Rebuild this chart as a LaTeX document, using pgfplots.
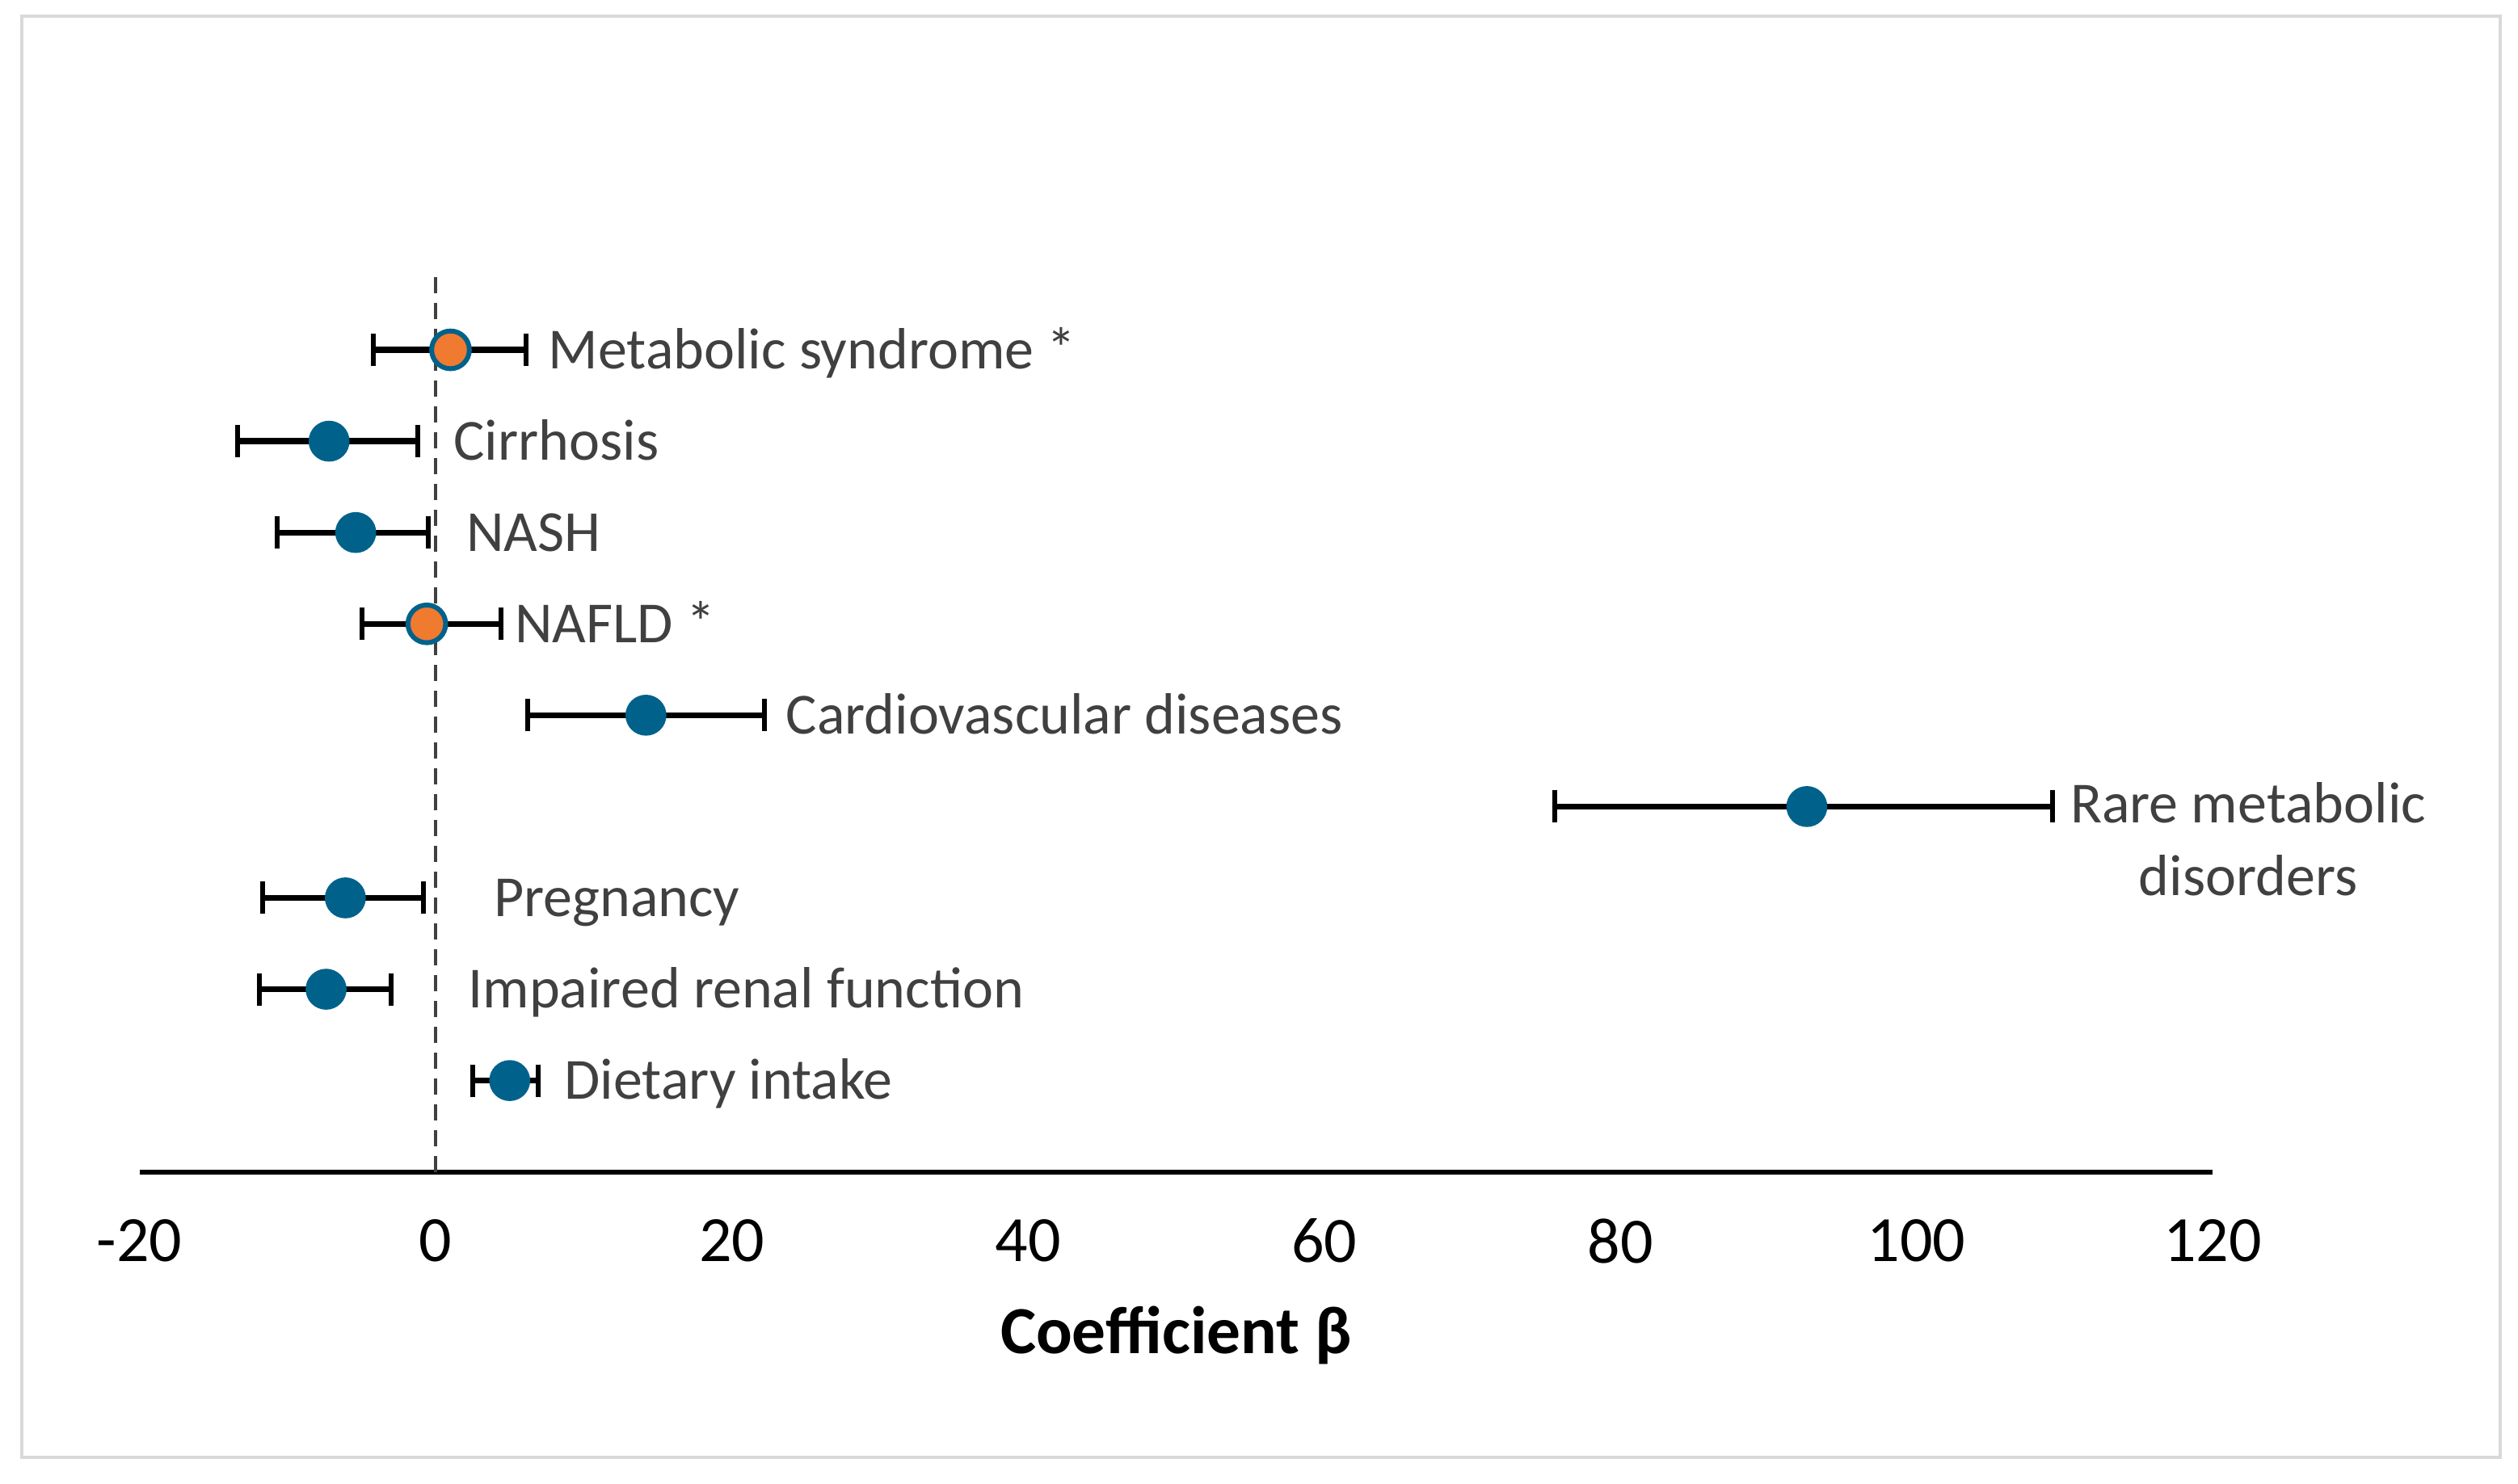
\documentclass[border=0pt]{standalone}
\usepackage{pgfplots}
\pgfplotsset{compat=1.18}
\usepackage{pgfplotstable}
\usepackage{fontspec}
\setmainfont{Carlito}

\definecolor{dotblue}{HTML}{00628B}
\definecolor{dotorange}{HTML}{F07A30}
\definecolor{labelgray}{HTML}{404040}
\definecolor{framegray}{HTML}{D9D9D9}

% beta, row, +err, -err
\pgfplotstableread{
x     y  ep   em
-7.2  8  6.0  6.2
-5.4  7  4.9  5.3
14.2  5  8.0  8.0
92.6  4  16.6 17.0
-6.1  3  5.3  5.6
-7.4  2  4.4  4.5
5.0   1  1.9  2.5
}\bluepts
\pgfplotstableread{
x     y  ep   em
1.0   9  5.1  5.2
-0.6  6  5.0  4.4
}\orangepts

\begin{document}
\begin{tikzpicture}[lbl/.style={anchor=base west, yshift=-3.5pt, inner sep=0pt,
    text=labelgray, font=\fontsize{10.8}{13}\selectfont}]
\path[use as bounding box] (-25.9pt,-57.8pt) rectangle (441.5pt,217.6pt);
\draw[framegray, line width=0.6pt] (-21.8pt,-53.0pt) rectangle (438.2pt,214.6pt);
\begin{axis}[
    scale only axis,
    width=384.8pt, height=169.6pt,
    xmin=-20, xmax=120, ymin=0, ymax=10,
    axis x line*=bottom, axis y line=none,
    x axis line style={line width=0.9pt, -},
    xtick={-20,0,...,120}, ytick=\empty,
    major tick length=0pt,
    clip=false,
    /pgf/number format/assume math mode=true,
    ticklabel style={font=\fontsize{12}{14}\selectfont},
    xticklabel style={anchor=center, yshift=-12.8pt},
    xlabel={\textbf{Coefficient β}},
    xlabel style={at={(axis description cs:0.5,0)}, anchor=center, yshift=-30.4pt,
        font=\fontsize{12.5}{15}\selectfont},
]
\addplot[labelgray, line width=0.5pt, dash pattern=on 3pt off 1.8pt, forget plot]
    coordinates {(0,0) (0,9.8)};

\addplot[only marks, mark=*, mark size=3.6pt, mark options={fill=dotblue, draw=dotblue},
    error bars/.cd, x dir=both, x explicit,
    error bar style={line width=1.1pt, black},
    error mark options={rotate=90, mark size=3pt, line width=0.9pt, black}]
    table[x=x, y=y, x error plus=ep, x error minus=em] {\bluepts};
\addplot[only marks, mark=*, mark size=3.5pt,
    mark options={fill=dotorange, draw=dotblue, line width=0.9pt},
    error bars/.cd, x dir=both, x explicit,
    error bar style={line width=1.1pt, black},
    error mark options={rotate=90, mark size=3pt, line width=0.9pt, black}]
    table[x=x, y=y, x error plus=ep, x error minus=em] {\orangepts};

\node[lbl] at (axis cs:7.55,9) {Metabolic syndrome *};
\node[lbl] at (axis cs:1.15,8) {Cirrhosis};
\node[lbl] at (axis cs:2.0,7) {NASH};
\node[lbl] at (axis cs:5.27,6) {NAFLD *};
\node[lbl] at (axis cs:23.6,5) {Cardiovascular diseases};
\node[lbl, anchor=base] at (axis cs:122.4,4.03) {Rare metabolic};
\node[lbl, anchor=base] at (axis cs:122.4,3.23) {disorders};
\node[lbl] at (axis cs:3.86,3) {Pregnancy};
\node[lbl] at (axis cs:2.13,2) {Impaired renal function};
\node[lbl] at (axis cs:8.63,1) {Dietary intake};
\end{axis}
\end{tikzpicture}
\end{document}
